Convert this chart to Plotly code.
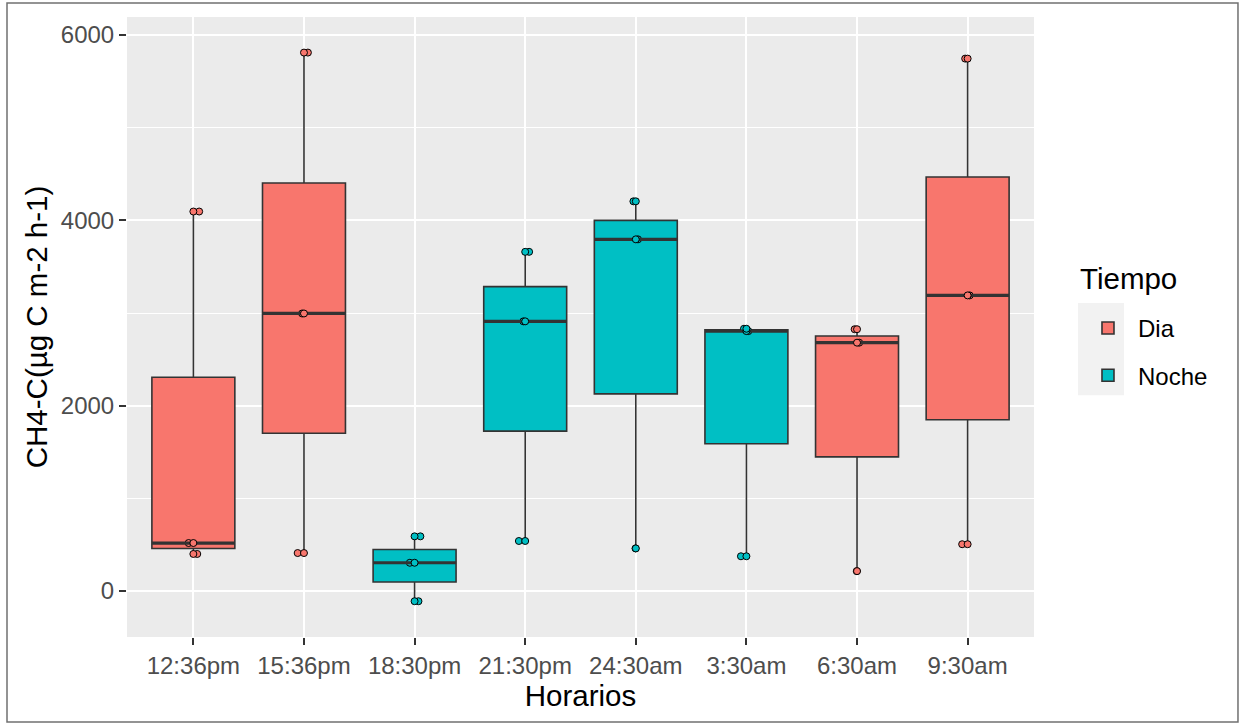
import numpy as np
import plotly.graph_objects as go

# ---- data ----
horarios = ["12:36pm", "15:36pm", "18:30pm", "21:30pm", "24:30am", "3:30am", "6:30am", "9:30am"]
tiempo = ["Dia", "Dia", "Noche", "Noche", "Noche", "Noche", "Dia", "Dia"]
v_1236pm = [400, 518, 4095]
v_1536pm = [410, 2995, 5810]
v_1830pm = [-110, 305, 590]
v_2130pm = [540, 2910, 3660]
v_2430am = [460, 3795, 4205]
v_330am = [375, 2805, 2830]
v_630am = [215, 2680, 2825]
v_930am = [505, 3190, 5745]
valores = [v_1236pm, v_1536pm, v_1830pm, v_2130pm, v_2430am, v_330am, v_630am, v_930am]

colores = {"Dia": "#F8766D", "Noche": "#00BFC4"}
FONT = "Liberation Sans, Arial, sans-serif"
TICK = 24
TITLE = 29.5

fig = go.Figure()
for grupo in ["Dia", "Noche"]:
    xs, ys = [], []
    for h, t, v in zip(horarios, tiempo, valores):
        if t == grupo:
            xs += [h] * len(v)
            ys += v
    fig.add_trace(go.Box(
        x=xs, y=ys, name=grupo, legendgroup=grupo,
        fillcolor=colores[grupo],
        line=dict(color="#333333", width=1.6),
        boxpoints="all", pointpos=0, jitter=0.18,
        marker=dict(color=colores[grupo], size=7, line=dict(color="black", width=1)),
        quartilemethod="inclusive",
        whiskerwidth=0,
    ))
    # thick median lines (ggplot fatten)
    mx = [h for h, t in zip(horarios, tiempo) if t == grupo]
    my = [float(np.median(v)) for h, t, v in zip(horarios, tiempo, valores) if t == grupo]
    fig.add_trace(go.Scatter(
        x=mx, y=my, mode="markers", showlegend=False, legendgroup=grupo,
        marker=dict(symbol="line-ew", size=59.3, line=dict(color="#333333", width=3.2)),
        hoverinfo="skip",
    ))
    # point layer at category centre (geom_point)
    fig.add_trace(go.Scatter(
        x=xs, y=ys, mode="markers", showlegend=False, legendgroup=grupo,
        marker=dict(color=colores[grupo], size=7, line=dict(color="black", width=1)),
    ))

fig.update_layout(
    width=1240, height=725,
    margin=dict(l=127, r=206, t=17, b=88),
    paper_bgcolor="white", plot_bgcolor="#EBEBEB",
    boxmode="overlay", boxgap=0.25, boxgroupgap=0,
    font=dict(family=FONT, size=TICK, color="black"),
    legend=dict(
        x=1.0485, xanchor="left", y=0.534, yanchor="top",
        font=dict(size=TICK, color="black"),
        bgcolor="rgba(0,0,0,0)", tracegroupgap=13, itemwidth=50,
    ),
    showlegend=True,
    annotations=[dict(text="Tiempo", xref="paper", yref="paper", x=1.0485, y=0.579,
                      xanchor="left", yanchor="middle", showarrow=False,
                      font=dict(size=TITLE, color="black"))],
    shapes=[
        dict(type="rect", xref="paper", yref="paper",
             x0=-0.1323, x1=1.2249, y0=-0.137, y1=1.0226,
             line=dict(color="#707070", width=1.5), fillcolor="rgba(0,0,0,0)", layer="below"),
        dict(type="rect", xref="paper", yref="paper",
             x0=1.0485, x1=1.0992, y0=0.390, y1=0.5387,
             line=dict(width=0), fillcolor="#F2F2F2", layer="below"),
    ],
)
fig.update_xaxes(
    categoryorder="array", categoryarray=horarios,
    range=[-0.6, 7.6],
    showgrid=True, gridcolor="white", gridwidth=2,
    ticks="outside", ticklen=7, tickwidth=1.5, tickcolor="#333333",
    tickfont=dict(size=TICK, color="#4D4D4D"),
    title=dict(text="Horarios", font=dict(size=TITLE, color="black"), standoff=4),
    zeroline=False, showline=False,
)
fig.update_yaxes(
    range=[-496, 6194],
    tickvals=[0, 2000, 4000, 6000],
    showgrid=True, gridcolor="white", gridwidth=2,
    minor=dict(tickvals=[-1000, 1000, 3000, 5000], showgrid=True, gridcolor="white", gridwidth=1, ticks=""),
    ticks="outside", ticklen=7, tickwidth=1.5, tickcolor="#333333",
    tickfont=dict(size=TICK, color="#4D4D4D"),
    title=dict(text="CH4-C(µg C m-2 h-1)", font=dict(size=TITLE, color="black"), standoff=4),
    zeroline=False, showline=False,
)

fig.write_html("out.html")
